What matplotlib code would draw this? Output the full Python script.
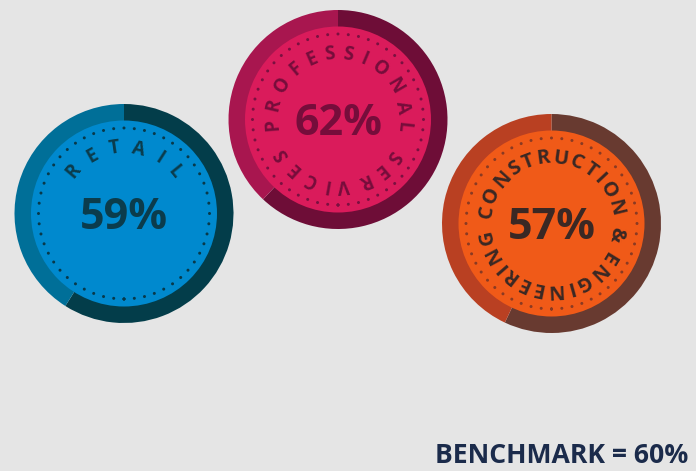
import numpy as np
import matplotlib
matplotlib.use("Agg")
import matplotlib.pyplot as plt
import matplotlib.font_manager as fm
from matplotlib.ft2font import FT2Font
from matplotlib.patches import Circle

# ---- data ----
categories = ["RETAIL", "PROFESSIONAL SERVICES", "CONSTRUCTION & ENGINEERING"]
values = [59, 62, 57]
benchmark = 60

# ---- styles ----
dark_colors = ["#033D4A", "#6E0D37", "#683A30"]
light_colors = ["#006F98", "#A8164F", "#B94022"]
fill_colors = ["#0089CE", "#DA1B5B", "#F05A18"]
text_colors = ["#0B3C4C", "#760D3B", "#3A2824"]
dot_colors = ["#08394A", "#7A1040", "#8A3A22"]
label_sizes = [13.5, 13.5, 14.5]
# centres in image pixel coords (x, y-down)
centers_img = [(124, 213.5), (338, 119.5), (551.5, 223.5)]
# start / end angles (deg, clockwise from top) of the first/last curved letters
label_spans = [(-50, 51), (-94.4, 238.4), (-80, 258)]

W, H = 696, 471
BG = "#E5E5E5"
R_OUT, R_IN, R_DOT, R_TXT = 109.5, 93, 85.5, 60.5

fig = plt.figure(figsize=(W / 100, H / 100), dpi=100, facecolor=BG)
ax = fig.add_axes([0, 0, 1, 1])
ax.set_facecolor(BG)


def advances(s, prop):
    f = FT2Font(fm.findfont(prop))
    f.set_size(prop.get_size_in_points(), 100)
    return [f.load_char(ord(ch)).linearHoriAdvance / 65536 for ch in s]


n_dots = 52
circ_pt = 2 * np.pi * R_DOT * 72 / 100
dot_lw = 2.2
gap = circ_pt / n_dots / dot_lw - 0.01

for i, cat in enumerate(categories):
    cx, cy_img = centers_img[i]
    cy = H - cy_img
    v = values[i]
    ax.pie([v, 100 - v], colors=[dark_colors[i], light_colors[i]],
           startangle=90, counterclock=False, radius=R_OUT, center=(cx, cy),
           wedgeprops=dict(linewidth=0, antialiased=True))
    ax.add_patch(Circle((cx, cy), R_IN, facecolor=fill_colors[i], edgecolor="none", zorder=3))
    dots = Circle((cx, cy), R_DOT, fill=False, edgecolor=dot_colors[i], linewidth=dot_lw,
                  linestyle=(0, (0.01, gap)), zorder=4)
    dots.set_capstyle("round")
    ax.add_patch(dots)

    # percentage
    ax.text(cx, cy - 15.5, f"{v}%", ha="center", va="baseline", fontsize=31,
            fontweight="bold", family="Open Sans", color=text_colors[i], zorder=5)

    # curved label
    lbl_prop = fm.FontProperties(family="Open Sans", weight="bold", size=label_sizes[i])
    adv = advances(cat, lbl_prop)
    a0, a1 = label_spans[i]
    rc = R_TXT + 6.5
    span_arc = np.deg2rad(a1 - a0) * rc
    base = sum((adv[k] + adv[k + 1]) / 2 for k in range(len(adv) - 1))
    track = (span_arc - base) / (len(adv) - 1)
    s = 0.0
    for k, ch in enumerate(cat):
        if k > 0:
            s += (adv[k - 1] + adv[k]) / 2 + track
        th = a0 + np.rad2deg(s / rc)
        t = np.deg2rad(th)
        x = cx + R_TXT * np.sin(t)
        y = cy + R_TXT * np.cos(t)
        ax.text(x, y, ch, rotation=-th, rotation_mode="anchor", ha="center",
                va="baseline", fontproperties=lbl_prop, color=text_colors[i], zorder=5)

ax.text(688, H - 463, f"BENCHMARK = {benchmark}%", ha="right", va="baseline",
        fontsize=19.2, fontweight="bold", family="Open Sans", color="#1B2B4B")

ax.set_xlim(0, W)
ax.set_ylim(0, H)
ax.set_aspect("equal")
ax.axis("off")
fig.savefig("out.png", dpi=100, facecolor=BG)
